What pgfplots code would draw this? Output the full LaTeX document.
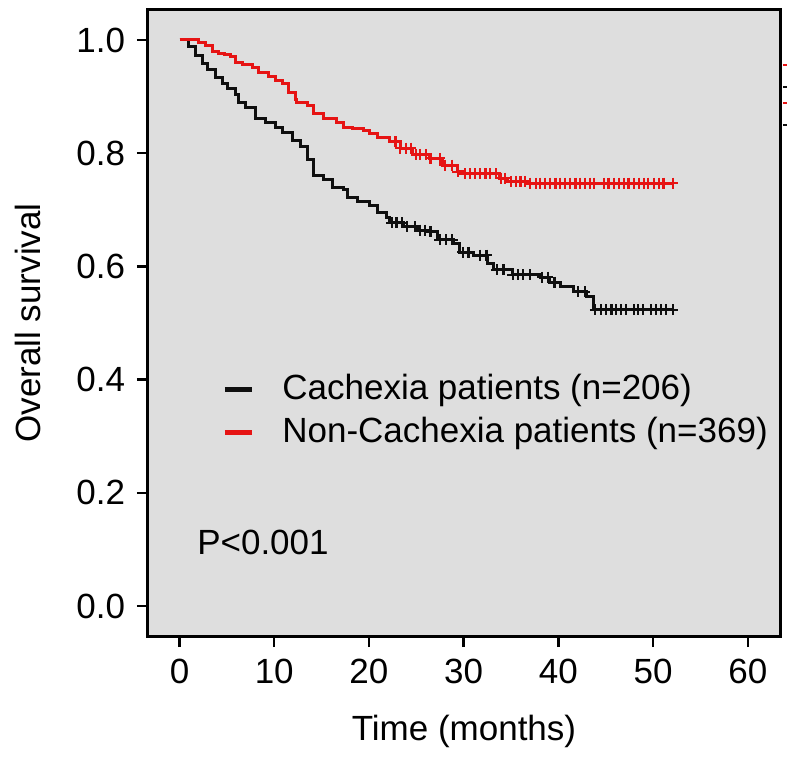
\documentclass[border=0pt]{standalone}
\usepackage{fontspec}
\setmainfont{Liberation Sans}
\usepackage{pgfplots}
\pgfplotsset{compat=1.18}
\definecolor{bg}{RGB}{222,222,222}
\definecolor{kmred}{RGB}{230,20,20}
\definecolor{kmblack}{RGB}{15,15,15}
\begin{document}
\fontsize{35}{42}\selectfont
\begin{tikzpicture}
\begin{axis}[
  scale only axis, width=632pt, height=626pt,
  xmin=-3.33, xmax=63.4, ymin=-0.053, ymax=1.053,
  axis background/.style={fill=bg},
  axis line style={line width=3pt, black},
  xtick={0,10,20,30,40,50,60}, xticklabels={0,10,20,30,40,50,60},
  ytick={0,0.2,0.4,0.6,0.8,1}, yticklabels={0.0,0.2,0.4,0.6,0.8,1.0},
  xtick pos=bottom, ytick pos=left, tick align=outside,
  major tick length=11pt,
  every tick/.style={line width=2.5pt, black},
  tick label style={font=\fontsize{35}{42}\selectfont},
  label style={font=\fontsize{35}{42}\selectfont},
  xlabel={Time (months)}, ylabel={Overall survival},
  every axis x label/.style={at={(axis description cs:0.5,0)}, yshift=-104pt, anchor=base},
  every axis y label/.style={at={(axis description cs:0,0.5)}, xshift=-120pt, rotate=90, anchor=center},
  legend style={at={(axis cs:4.5,0.345)}, anchor=west, draw=none, fill=none,
    font=\fontsize{35}{42}\selectfont, row sep=8pt, inner sep=0pt,
    /tikz/every odd column/.append style={column sep=26pt}},
  legend cell align=left,
  legend image code/.code={\draw[#1,line width=5pt] (0pt,0pt) -- (27pt,0pt);},
]
% Cachexia (black)
\addplot[kmblack, line width=3pt, const plot, no marks] coordinates {
(0,1.0) (0.9,0.988) (1.64,0.973) (2.38,0.959) (3.0,0.947) (3.75,0.933)
(4.49,0.924) (5.1,0.915) (5.86,0.903) (6.18,0.890) (6.92,0.880) (7.97,0.862)
(9.03,0.855) (10.08,0.846) (10.82,0.836) (11.88,0.823) (12.72,0.811) (13.46,0.788)
(14.1,0.761) (15.15,0.753) (16.2,0.740) (17.27,0.735) (17.7,0.721) (18.74,0.714)
(20.1,0.708) (20.85,0.696) (21.9,0.687) (22.2,0.677) (23.6,0.670) (25.1,0.664)
(26.1,0.661) (27.2,0.647) (28.9,0.641) (29.6,0.625) (31.0,0.620) (32.5,0.606)
(33.1,0.594) (35.2,0.585) (38.1,0.581) (39.1,0.572) (40.2,0.564) (41.6,0.555)
(43.0,0.546) (43.7,0.523) (52.1,0.523)
};
\addlegendentry{Cachexia patients (n=206)}
% Non-Cachexia (red)
\addplot[kmred, line width=3pt, const plot, no marks] coordinates {
(0,1.0) (1.95,0.996) (2.7,0.991) (3.43,0.979) (4.07,0.977) (4.8,0.975)
(5.33,0.970) (5.86,0.961) (6.6,0.956) (7.66,0.951) (8.29,0.943) (9.35,0.935)
(10.08,0.929) (10.82,0.924) (11.46,0.908) (12.2,0.894) (12.4,0.890) (13.46,0.885)
(14.1,0.871) (15.15,0.862) (16.6,0.855) (17.27,0.846) (18.3,0.843) (19.4,0.840)
(20.1,0.835) (20.85,0.827) (22.2,0.820) (23.3,0.809) (24.6,0.798) (26.4,0.791)
(27.8,0.779) (29.3,0.767) (30.1,0.764) (33.8,0.756) (34.6,0.750) (36.6,0.747)
(52.1,0.747)
};
\addlegendentry{Non-Cachexia patients (n=369)}
% censor marks black
\addplot[kmblack, only marks, mark=+, mark size=5.5pt, line width=2.2pt, forget plot] coordinates {
(22.4,0.677) (22.9,0.677) (23.5,0.677) (24.0,0.670) (24.9,0.670) (25.4,0.664)
(25.9,0.664) (26.5,0.661) (27.5,0.647) (28.1,0.647) (28.8,0.647) (29.9,0.625)
(30.5,0.625) (31.7,0.620) (32.4,0.620) (33.5,0.594) (34.2,0.594) (35.2,0.585)
(35.7,0.585) (36.3,0.585) (37.0,0.585) (38.3,0.581) (38.9,0.581) (39.6,0.572)
(42.1,0.555) (42.8,0.555) (43.9,0.523) (44.5,0.523) (45.0,0.523) (45.6,0.523)
(46.1,0.523) (46.6,0.523) (47.1,0.523) (48.0,0.523) (48.4,0.523) (48.9,0.523)
(49.8,0.523) (50.3,0.523) (50.8,0.523) (51.4,0.523) (52.1,0.523)
};
% censor marks red
\addplot[kmred, only marks, mark=+, mark size=5.5pt, line width=2.2pt, forget plot] coordinates {
(22.8,0.820) (23.3,0.809) (23.9,0.809) (24.4,0.809) (25.0,0.798) (25.4,0.798)
(26.0,0.798) (26.5,0.791) (27.5,0.791) (28.0,0.779) (28.8,0.779) (29.4,0.767)
(30.1,0.764) (30.7,0.764) (31.2,0.764) (31.7,0.764) (32.3,0.764) (32.8,0.764)
(33.4,0.764) (33.9,0.756) (34.4,0.756) (35.0,0.750) (35.5,0.750) (36.0,0.750)
(36.5,0.750) (37.0,0.747) (37.6,0.747) (38.1,0.747) (38.6,0.747) (39.1,0.747)
(39.7,0.747) (40.2,0.747) (40.7,0.747) (41.2,0.747) (41.8,0.747) (42.3,0.747)
(42.8,0.747) (43.3,0.747) (43.8,0.747) (44.8,0.747) (45.3,0.747) (45.9,0.747)
(46.4,0.747) (46.9,0.747) (47.4,0.747) (48.0,0.747) (48.5,0.747) (49.0,0.747)
(49.5,0.747) (50.1,0.747) (50.6,0.747) (51.1,0.747) (52.1,0.747)
};
\node[anchor=west, inner sep=0pt, font=\fontsize{35}{42}\selectfont] at (axis cs:1.85,0.113) {P<0.001};
\end{axis}
\draw[kmred, line width=2pt] ([xshift=3pt,yshift=-55pt]current axis.north east) -- ++(5pt,0);
\draw[kmblack, line width=2pt] ([xshift=3pt,yshift=-77pt]current axis.north east) -- ++(5pt,0);
\draw[kmred, line width=2pt] ([xshift=3pt,yshift=-93pt]current axis.north east) -- ++(5pt,0);
\draw[kmblack, line width=2pt] ([xshift=3pt,yshift=-115pt]current axis.north east) -- ++(5pt,0);
\path (current axis.south west) ++(-148pt,-120pt) coordinate (bbbl);
\path (current axis.north east) ++(7pt,10pt) coordinate (bbtr);
\pgfresetboundingbox
\path (bbbl) rectangle (bbtr);
\end{tikzpicture}
\end{document}
